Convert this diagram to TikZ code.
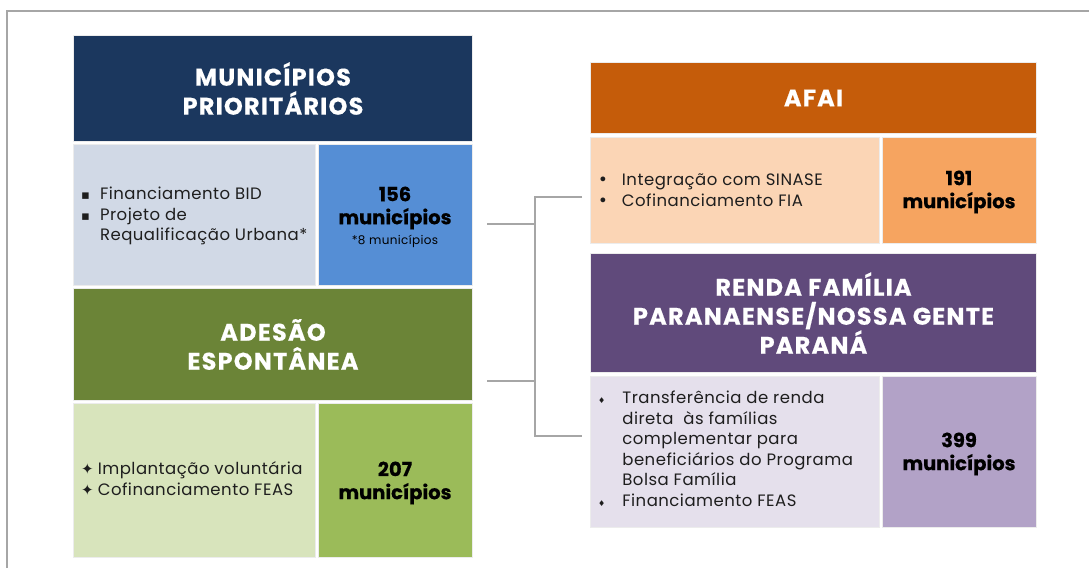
\documentclass[tikz,border=0pt]{standalone}
\usepackage{fontspec}
\setmainfont{Poppins}
\newfontfamily\bodyf{Poppins}[LetterSpace=3]
\newfontfamily\headf{Poppins}[LetterSpace=5, BoldFeatures={FakeBold=0.4}]
\newfontfamily\numf{Poppins}[BoldFeatures={FakeBold=0.5}]
\newfontfamily\symf{DejaVu Sans}
\usetikzlibrary{positioning}
\definecolor{navy}{HTML}{1B375E}
\definecolor{lblue}{HTML}{D1D9E6}
\definecolor{mblue}{HTML}{558ED5}
\definecolor{olive}{HTML}{6B8437}
\definecolor{lgreen}{HTML}{D8E4BC}
\definecolor{mgreen}{HTML}{9BBB59}
\definecolor{dorange}{HTML}{C55C0A}
\definecolor{peach}{HTML}{FBD5B5}
\definecolor{morange}{HTML}{F6A460}
\definecolor{dpurple}{HTML}{604A7B}
\definecolor{lavender}{HTML}{E5E0EC}
\definecolor{mpurple}{HTML}{B2A2C7}
\definecolor{linegray}{HTML}{A6A6A6}
\definecolor{cellline}{HTML}{ECECEC}
\definecolor{bodytext}{HTML}{1E1E1E}
\tikzset{
  cell/.style={draw=cellline, line width=1pt, inner sep=0pt, anchor=north west},
  head/.style={font=\headf\fontsize{24}{29}\selectfont\bfseries, text=white, align=center},
  body/.style={font=\bodyf\fontsize{16.5}{20.5}\selectfont, text=bodytext, align=left, inner sep=0pt},
  num/.style={font=\numf\fontsize{19.5}{23}\selectfont\bfseries, text=black, align=center, inner sep=0pt},
  conn/.style={draw=linegray, line width=2.8pt},
  frame/.style={draw=linegray, line width=2pt}
}
\newcommand{\mkcell}[6]{% name, fill, x1, y1, x2, y2
  \node[cell, fill=#2, minimum width={#5-#3}, minimum height={#6-#4}] (#1) at (#3,#4) {};}
\begin{document}
\begin{tikzpicture}[x=1pt,y=-1pt]
\useasboundingbox (0,0) rectangle (1089,568);
\fill[white] (0,0) rectangle (1089,568);
% frame
\coordinate (f1) at (7,568);
\coordinate (f2) at (7,11);
\coordinate (f3) at (1089,11);
\draw[frame] (f1) -- (f2) -- (f3);
% left column
\mkcell{h1}{navy}{73}{35}{472}{141}
\mkcell{lt}{lblue}{73}{144}{315}{285}
\mkcell{rt}{mblue}{318}{144}{472}{285}
\mkcell{h2}{olive}{73}{288}{472}{400}
\mkcell{lb}{lgreen}{73}{403}{315}{557}
\mkcell{rb}{mgreen}{318}{403}{472}{557}
% right column
\mkcell{h3}{dorange}{590}{62}{1036}{133}
\mkcell{pt}{peach}{590}{137}{879}{243}
\mkcell{ot}{morange}{882}{137}{1036}{243}
\mkcell{h4}{dpurple}{590}{253}{1036}{372}
\mkcell{pl}{lavender}{590}{376}{879}{527}
\mkcell{pr}{mpurple}{882}{376}{1036}{527}
% header texts
\node[head] (t1) at (h1.center) {MUNICÍPIOS\\PRIORITÁRIOS};
\node[head] (t2) at (h2.center) {ADESÃO\\ESPONTÂNEA};
\node[head] (t3) at (h3.center) {AFAI};
\node[head] (t4) at (h4.center) {RENDA FAMÍLIA\\PARANAENSE/NOSSA GENTE\\PARANÁ};
% body texts
\node[body, anchor=west] (b1) at (81,216) {%
  \begin{tabular}{@{}l@{\hspace{10pt}}l@{}}
  {\symf\fontsize{13}{13}\selectfont ▪} & Financiamento BID\\
  {\symf\fontsize{13}{13}\selectfont ▪} & Projeto de\\
   & Requalificação Urbana*
  \end{tabular}};
\node[body, anchor=west] (b2) at (81,481) {%
  \begin{tabular}{@{}l@{\hspace{4pt}}l@{}}
  {\symf\fontsize{15}{15}\selectfont ✦} & Implantação voluntária\\
  {\symf\fontsize{15}{15}\selectfont ✦} & Cofinanciamento FEAS
  \end{tabular}};
\node[body, anchor=west] (b3) at (598,192) {%
  \begin{tabular}{@{}l@{\hspace{14pt}}l@{}}
  {\symf •} & Integração com SINASE\\
  {\symf •} & Cofinanciamento FIA
  \end{tabular}};
\node[body, anchor=west] (b4) at (598,451) {%
  \begin{tabular}{@{}l@{\hspace{17pt}}l@{}}
  {\symf\fontsize{8}{8}\selectfont ♦} & Transferência de renda\\
   & direta\ \ às famílias\\
   & complementar para\\
   & beneficiários do Programa\\
   & Bolsa Família\\
  {\symf\fontsize{8}{8}\selectfont ♦} & Financiamento FEAS
  \end{tabular}};
% numbers
\node[num] (n1) at (395,217) {156\\municípios\\[-3pt]{\bodyf\fontsize{12}{14}\selectfont\mdseries *8 municípios}};
\node[num] (n2) at (395,483) {207\\municípios};
\node[num] (n3) at (959,192) {191\\municípios};
\node[num] (n4) at (959,454) {399\\municípios};
% connectors
\coordinate (a1) at (487,224);
\coordinate (a2) at (487,381);
\coordinate (j1) at (535,224);
\coordinate (j2) at (535,381);
\coordinate (tp) at (535,197);
\coordinate (bt) at (535,436);
\coordinate (e1) at (582,197);
\coordinate (e2) at (582,436);
\draw[conn] (a1) -- (j1);
\draw[conn] (a2) -- (j2);
\draw[conn] (e1) -- (tp) -- (bt) -- (e2);
\end{tikzpicture}
\end{document}
